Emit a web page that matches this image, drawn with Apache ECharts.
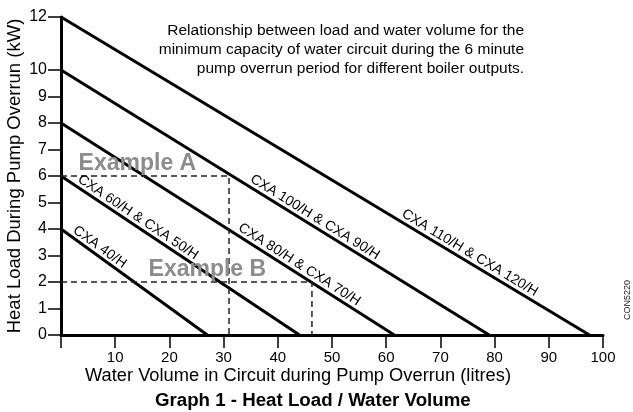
<!DOCTYPE html>
<html>
<head>
<meta charset="utf-8">
<script src="https://cdn.jsdelivr.net/npm/echarts@6/dist/echarts.min.js"></script>
<style>
  html, body { margin: 0; padding: 0; background: #fff; }
  #main { width: 633px; height: 412px; }
</style>
</head>
<body>
<div id="main"></div>
<script>
// boiler output lines: load at 0 litres, volume at 0 kW
const outputs = ['CXA 40/H', 'CXA 60/H & CXA 50/H', 'CXA 80/H & CXA 70/H', 'CXA 100/H & CXA 90/H', 'CXA 110/H & CXA 120/H'];
const loadAtZeroVolume = [4, 6, 8, 10, 12];
const volumeAtZeroLoad = [27, 44, 61.5, 79, 97.5];
const labelVolume = [5.4, 12.5, 42.3, 45.2, 73.8];

// worked examples (dashed)
const exampleNames = ['Example A', 'Example B'];
const exampleLoad = [6, 2];
const exampleVolume = [31, 46.3];
const exampleLabelVolume = [14.1, 27];

const yTicks = [0, 1, 2, 3, 4, 5, 6, 7, 8, 9, 10, 12];

const FONT = '"Liberation Sans", Arial, sans-serif';

var chart = echarts.init(document.getElementById('main'));

var lineSeries = outputs.map(function (name, i) {
  return {
    name: name,
    type: 'line',
    symbol: 'none',
    silent: true,
    lineStyle: { color: '#000', width: 3 },
    data: [[0, loadAtZeroVolume[i]], [volumeAtZeroLoad[i], 0]]
  };
});

var dashSeries = exampleNames.map(function (name, i) {
  return {
    name: name,
    type: 'line',
    symbol: 'none',
    silent: true,
    lineStyle: { color: '#222', width: 1.5, type: [6, 4] },
    data: [[0, exampleLoad[i]], [exampleVolume[i], exampleLoad[i]], [exampleVolume[i], 0]],
    markPoint: {
      symbolSize: 0,
      silent: true,
      data: [{
        coord: [exampleLabelVolume[i], exampleLoad[i]],
        label: {
          show: true,
          formatter: name,
          offset: [0, -12],
          color: '#8c8c8c',
          fontFamily: FONT,
          fontWeight: 'bold',
          fontSize: 23
        }
      }]
    }
  };
});

var option = {
  animation: false,
  grid: { left: 61, right: 30, top: 17, bottom: 77, outerBoundsMode: 'none' },
  xAxis: {
    type: 'value',
    min: 0, max: 100, interval: 10,
    splitLine: { show: false },
    axisLine: { lineStyle: { color: '#000', width: 3 } },
    axisTick: { length: 13, lineStyle: { color: '#000', width: 1.5 } },
    axisLabel: {
      color: '#000', fontFamily: FONT, fontSize: 15, margin: 15,
      formatter: function (v) { return v === 0 ? '' : String(v); }
    },
    name: 'Water Volume in Circuit during Pump Overrun (litres)',
    nameLocation: 'middle',
    nameGap: 32,
    nameMoveOverlap: false,
    nameTextStyle: { color: '#000', fontFamily: FONT, fontSize: 18.3, padding: [0, 68, 0, 0] }
  },
  yAxis: {
    type: 'value',
    min: 0, max: 12, interval: 1,
    splitLine: { show: false },
    axisLine: { lineStyle: { color: '#000', width: 3 } },
    axisTick: { length: 13, customValues: yTicks, lineStyle: { color: '#000', width: 1.5 } },
    axisLabel: {
      color: '#000', fontFamily: FONT, fontSize: 16, margin: 14,
      customValues: yTicks
    },
    name: 'Heat Load During Pump Overrun (kW)',
    nameLocation: 'middle',
    nameGap: 37,
    nameMoveOverlap: false,
    nameTextStyle: { color: '#000', fontFamily: FONT, fontSize: 18.5 }
  },
  graphic: [
    {
      type: 'text', right: 109, top: 21,
      style: {
        text: 'Relationship between load and water volume for the\nminimum capacity of water circuit during the 6 minute\npump overrun period for different boiler outputs.',
        textAlign: 'right', fill: '#000', font: '15.5px ' + FONT, lineHeight: 19
      }
    },
    {
      type: 'text', left: 155, top: 391,
      style: { text: 'Graph 1 - Heat Load / Water Volume', fill: '#000', font: 'bold 18.7px ' + FONT }
    },
    {
      type: 'text', x: 623, y: 320, rotation: Math.PI / 2,
      style: { text: 'CON5220', fill: '#222', font: '9px ' + FONT }
    }
  ],
  series: lineSeries.concat(dashSeries)
};

chart.setOption(option);

// label each output line along its slope
var labelled = outputs.map(function (name, i) {
  var p0 = chart.convertToPixel({ gridIndex: 0 }, [0, loadAtZeroVolume[i]]);
  var p1 = chart.convertToPixel({ gridIndex: 0 }, [volumeAtZeroLoad[i], 0]);
  var a = Math.atan2(p1[1] - p0[1], p1[0] - p0[0]);
  var d = 10;
  var lx = labelVolume[i];
  var ly = loadAtZeroVolume[i] * (1 - lx / volumeAtZeroLoad[i]);
  return {
    markPoint: {
      symbolSize: 0,
      silent: true,
      data: [{
        coord: [lx, ly],
        label: {
          show: true,
          formatter: name,
          rotate: -a * 180 / Math.PI,
          offset: [d * Math.sin(a), -d * Math.cos(a)],
          align: 'center',
          verticalAlign: 'middle',
          color: '#000',
          fontFamily: FONT,
          fontSize: 14
        }
      }]
    }
  };
});

chart.setOption({ series: labelled });
</script>
</body>
</html>
